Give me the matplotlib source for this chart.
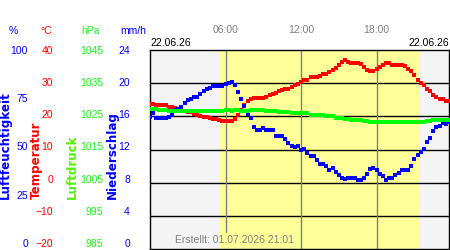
import matplotlib
matplotlib.use("Agg")
import matplotlib.pyplot as plt
import numpy as np

# ---- data (15-minute readings, hours 0.00 .. 23.75) ----
hours = np.arange(96) * 0.25

humidity = [66.5, 68.5, 65.8, 65.8, 65.8, 65.8, 66.2, 67.5, 70.0, 70.5,
            71.5, 73.5, 75.0, 75.2, 76.3, 76.5, 77.8, 79.3, 80.5, 80.9,
            81.9, 81.9, 81.9, 81.9, 83.0, 83.2, 83.9, 82.5, 79.0, 75.5,
            72.0, 68.0, 66.0, 61.5, 59.8, 60.0, 60.8, 59.6, 59.6, 59.6,
            56.6, 56.6, 56.6, 55.4, 53.5, 52.0, 51.3, 51.9, 49.9, 50.5,
            48.3, 46.5, 46.6, 44.5, 42.7, 42.7, 41.5, 39.5, 40.5, 38.7,
            37.3, 35.7, 35.0, 35.7, 35.7, 35.7, 34.5, 34.5, 35.5, 37.5,
            40.0, 40.7, 39.5, 37.5, 36.5, 34.5, 35.7, 35.7, 37.3, 38.3,
            39.5, 39.5, 39.5, 41.5, 45.0, 47.4, 48.7, 50.5, 54.0, 56.0,
            59.5, 61.5, 61.8, 63.3, 62.8, 64.0]

temperature = [23.7, 23.7, 23.3, 23.3, 23.3, 23.3, 22.9, 22.9, 22.5, 22.3,
               22.3, 21.5, 21.3, 21.3, 20.7, 20.5, 20.0, 19.8, 19.8, 19.4,
               19.2, 19.2, 19.0, 18.7, 18.7, 18.7, 18.7, 19.3, 20.5, 21.9,
               23.3, 24.6, 25.3, 25.6, 25.6, 25.6, 25.6, 25.9, 26.3, 26.7,
               26.9, 27.5, 27.8, 28.3, 28.3, 28.8, 29.4, 29.8, 30.4, 30.9,
               31.1, 32.0, 32.0, 32.0, 32.3, 32.9, 32.9, 33.3, 34.0, 34.6,
               35.6, 36.4, 37.0, 36.4, 36.1, 36.1, 36.1, 35.9, 35.0, 34.0,
               33.8, 33.8, 34.2, 34.9, 35.6, 36.0, 36.0, 35.6, 35.6, 35.6,
               35.6, 35.1, 34.4, 33.8, 32.5, 31.1, 30.1, 29.3, 28.3, 27.5,
               26.5, 25.8, 25.2, 25.1, 24.7, 24.5]

pressure = [1027.2, 1027.2, 1027.2, 1026.9, 1026.9, 1026.9, 1026.5, 1026.5,
            1026.5, 1026.5, 1026.5, 1026.5, 1026.5, 1026.5, 1026.5, 1026.5,
            1026.5, 1026.5, 1026.5, 1026.5, 1026.5, 1026.5, 1026.5, 1026.5,
            1026.9, 1026.9, 1026.5, 1026.9, 1026.9, 1026.5, 1026.5, 1026.5,
            1026.9, 1026.9, 1026.9, 1026.9, 1026.9, 1026.5, 1026.5, 1026.5,
            1026.5, 1026.2, 1026.2, 1026.2, 1026.2, 1025.9, 1025.9, 1025.9,
            1025.9, 1025.9, 1025.9, 1025.5, 1025.5, 1025.5, 1025.5, 1025.5,
            1025.0, 1025.0, 1025.0, 1024.5, 1024.5, 1024.5, 1024.2, 1024.2,
            1024.0, 1024.0, 1024.0, 1024.0, 1023.5, 1023.5, 1023.3, 1023.3,
            1023.3, 1023.3, 1023.3, 1023.3, 1023.3, 1023.3, 1023.3, 1023.3,
            1023.3, 1023.3, 1023.3, 1023.3, 1023.3, 1023.3, 1023.3, 1023.3,
            1023.7, 1023.7, 1024.0, 1024.0, 1024.0, 1024.0, 1024.0, 1024.0]

daylight = (5.48, 21.43)          # sunrise / sunset in hours
time_ticks = [6, 12, 18]
time_labels = ["06:00", "12:00", "18:00"]
hum_ticks = [0, 25, 50, 75, 100]
temp_ticks = [-20, -10, 0, 10, 20, 30, 40]
pres_ticks = [985, 995, 1005, 1015, 1025, 1035, 1045]
prec_ticks = [0, 4, 8, 12, 16, 20, 24]
date_left = "22.06.26"
date_right = "22.06.26"
created = "Erstellt: 01.07.2026 21:01"

# ---- style ----
plt.rcParams['font.family'] = ['Liberation Sans', 'DejaVu Sans']
BLUE = '#0000ff'
RED = '#ff0000'
GREEN = '#00ff00'
PGREEN = '#22ee22'
GRAY = '#808080'
FS = 7.5

W, H = 450, 250
fig = plt.figure(figsize=(W / 100, H / 100), dpi=100)
L, R, T, B = 150, 449, 50, 249
ax = fig.add_axes([L / W, 1 - B / H, (R - L) / W, (B - T) / H])
ax.set_facecolor('#f4f4f4')
ax.set_xlim(0, 23.75)
ax.set_ylim(temp_ticks[0], temp_ticks[-1])

ax.axvspan(*daylight, color='#ffff99', zorder=0.5, lw=0)
for yv in temp_ticks[1:-1]:
    ax.axhline(yv, color='black', lw=1.0, zorder=1)
for i, xv in enumerate(time_ticks):
    ax.axvline(xv, ymin=0.085 if i == 0 else 0, color=GRAY, lw=1.0, zorder=1.2)

for s in ax.spines.values():
    s.set_linewidth(1.0)
    s.set_color('black')

ax.set_yticks([])
# time labels on top
ax.xaxis.tick_top()
ax.set_xticks(time_ticks)
ax.set_xticklabels(time_labels)
ax.tick_params(axis='x', length=0, pad=11, labelsize=FS, labelcolor=GRAY)

# label columns: the reference packs its labels into 50..243 px
SQ = (199 - 193) / 193.0

def label_axis(ticks, right_px, color):
    a = ax.twinx()
    lo, hi = ticks[0], ticks[-1]
    a.set_ylim(lo - (hi - lo) * SQ, hi)
    a.yaxis.set_ticks_position('left')
    a.set_yticks(ticks)
    a.tick_params(axis='y', length=0, pad=(150 - right_px) * 0.72,
                  labelsize=FS, labelcolor=color)
    for s in a.spines.values():
        s.set_visible(False)
    return a

label_axis(hum_ticks, 28, BLUE)
label_axis(temp_ticks, 53, RED)
label_axis(pres_ticks, 103, PGREEN)
label_axis(prec_ticks, 130, BLUE)

def data_axis(ticks):
    a = ax.twinx()
    a.set_ylim(ticks[0], ticks[-1])
    a.set_yticks([])
    for s in a.spines.values():
        s.set_visible(False)
    return a

ax_h = data_axis(hum_ticks)
ax_p = data_axis(pres_ticks)

ms = 2.3
ax_p.plot(hours, pressure, ls='none', marker='s', ms=3.0, mew=0,
          color=GREEN, zorder=3)
ax_h.plot(hours, humidity, ls='none', marker='s', ms=ms, mew=0,
          color=BLUE, zorder=3)
ax.plot(hours, temperature, ls='none', marker='s', ms=ms, mew=0,
        color=RED, zorder=4)

# headers
def ftxt(x, y, s, **kw):
    fig.text(x / W, 1 - y / H, s, **kw)

ftxt(13, 31, "%", color=BLUE, fontsize=FS, ha='center', va='center')
ftxt(46, 31, "°C", color=RED, fontsize=FS, ha='center', va='center')
ftxt(90, 31, "hPa", color=PGREEN, fontsize=FS, ha='center', va='center')
ftxt(133, 31, "mm/h", color=BLUE, fontsize=FS, ha='center', va='center')

ftxt(150, 43, date_left, color='black', fontsize=FS, ha='left', va='center')
ftxt(449, 43, date_right, color='black', fontsize=FS, ha='right', va='center')

rot = dict(rotation=90, ha='center', va='bottom', fontsize=8.6,
           family='DejaVu Sans', fontweight='bold')
ftxt(5.5, 199, "Luftfeuchtigkeit", color=BLUE, **rot)
ftxt(36, 199, "Temperatur", color=RED, **rot)
ftxt(72.5, 199, "Luftdruck", color='#55ee00', **rot)
ftxt(112.5, 199, "Niederschlag", color=BLUE, **rot)

ftxt(175, 240, created, color=GRAY, fontsize=FS, ha='left', va='center')

fig.savefig('out.png', dpi=100)
